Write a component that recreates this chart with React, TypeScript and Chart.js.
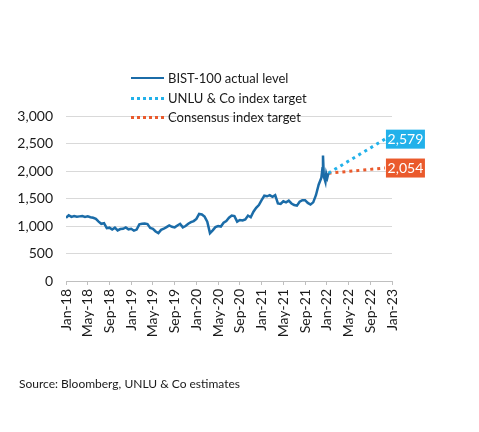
import React, { useEffect, useRef } from 'react';
import Chart from 'chart.js/auto';

// months since Jan-18
const actualMonth = [
  0, 0.5, 1, 1.5, 2, 2.5, 3, 3.5, 4, 4.5, 5, 5.5, 6, 6.5, 7, 7.5, 8, 8.5, 9, 9.5,
  10, 10.5, 11, 11.5, 12, 12.5, 13, 13.5, 14, 14.5, 15, 15.5, 16, 16.5, 17, 17.5, 18, 18.5, 19, 19.5,
  20, 20.5, 21, 21.5, 22, 22.5, 23, 23.5, 24, 24.5, 25, 25.5, 26, 26.5, 27, 27.5, 28, 28.5, 29, 29.5,
  30, 30.5, 31, 31.5, 32, 32.5, 33, 33.5, 34, 34.5, 35, 35.5, 36, 36.5, 37, 37.5, 38, 38.5, 39, 39.5,
  40, 40.5, 41, 41.5, 42, 42.5, 43, 43.5, 44, 44.5, 45, 45.5, 46, 46.5, 47, 47.2, 47.3, 47.45, 47.6, 47.75,
  47.9, 48.1, 48.3,
];
const actualLevel = [
  1150, 1195, 1165, 1180, 1170, 1175, 1180, 1165, 1175, 1160, 1150, 1130, 1080, 1040, 1050, 960, 970, 935, 970, 920,
  945, 950, 975, 940, 950, 915, 935, 1030, 1040, 1045, 1035, 965, 950, 900, 870, 930, 950, 980, 1010, 985,
  975, 1010, 1040, 975, 1000, 1040, 1070, 1090, 1130, 1220, 1210, 1170, 1080, 870, 920, 980, 1000, 990, 1060, 1090,
  1150, 1190, 1180, 1080, 1110, 1100, 1120, 1190, 1160, 1260, 1330, 1380, 1470, 1550, 1540, 1560, 1530, 1560, 1410, 1400,
  1450, 1430, 1460, 1410, 1380, 1370, 1440, 1470, 1470, 1420, 1390, 1430, 1560, 1750, 1880, 2050, 2280, 1900, 1850, 1800,
  1950, 1880, 1960,
];

const targetMonth = [48.3, 58.7];
const unluTarget = [1960, 2579];
const consensusTarget = [1960, 2054];

const tickLabels = [
  'Jan-18', 'May-18', 'Sep-18', 'Jan-19', 'May-19', 'Sep-19', 'Jan-20', 'May-20',
  'Sep-20', 'Jan-21', 'May-21', 'Sep-21', 'Jan-22', 'May-22', 'Sep-22', 'Jan-23',
];

const BLUE = '#1b6ca8';
const CYAN = '#22b1ea';
const ORANGE = '#ea5a2c';
const FONT = 'Lato, "Open Sans", sans-serif';

const endLabels = {
  id: 'endLabels',
  afterDatasetsDraw(chart: any) {
    const ctx = chart.ctx;
    [1, 2].forEach((i) => {
      const meta = chart.getDatasetMeta(i);
      const pt = meta.data[meta.data.length - 1];
      const ds = chart.data.datasets[i];
      const v = ds.data[ds.data.length - 1].y;
      ctx.save();
      ctx.fillStyle = ds.borderColor;
      ctx.fillRect(pt.x + 1, pt.y - 9.5, 39, 19);
      ctx.fillStyle = '#ffffff';
      ctx.font = `14px ${FONT}`;
      ctx.textAlign = 'center';
      ctx.textBaseline = 'middle';
      ctx.fillText(v.toLocaleString('en-US'), pt.x + 20.5, pt.y + 0.5);
      ctx.restore();
    });
  },
};

const LegendRow: React.FC<{ color: string; dotted?: boolean; label: string; top: number }> = ({ color, dotted, label, top }) => (
  <div style={{ position: 'absolute', left: 131, top, display: 'flex', alignItems: 'center', height: 18 }}>
    <span style={{ width: 33, borderTop: dotted ? `3px dotted ${color}` : `2px solid ${color}`, display: 'inline-block' }} />
    <span style={{ marginLeft: 4, fontSize: 13, color: '#1a1a1a', fontFamily: FONT, whiteSpace: 'nowrap' }}>{label}</span>
  </div>
);

export default function App() {
  const canvasRef = useRef<HTMLCanvasElement>(null);

  useEffect(() => {
    if (!canvasRef.current) return;
    const chart = new Chart(canvasRef.current, {
      type: 'line',
      data: {
        datasets: [
          {
            label: 'BIST-100 actual level',
            data: actualMonth.map((m, i) => ({ x: m, y: actualLevel[i] })),
            borderColor: BLUE,
            borderWidth: 2.5,
            pointRadius: 0,
            tension: 0,
          },
          {
            label: 'UNLU & Co index target',
            data: targetMonth.map((m, i) => ({ x: m, y: unluTarget[i] })),
            borderColor: CYAN,
            borderWidth: 3,
            borderDash: [3, 4],
            pointRadius: 0,
          },
          {
            label: 'Consensus index target',
            data: targetMonth.map((m, i) => ({ x: m, y: consensusTarget[i] })),
            borderColor: ORANGE,
            borderWidth: 3,
            borderDash: [3, 4],
            pointRadius: 0,
          },
        ],
      },
      options: {
        animation: false,
        responsive: false,
        maintainAspectRatio: false,
        layout: { padding: { left: 0, right: 87, top: 116, bottom: 91 } },
        plugins: { legend: { display: false }, tooltip: { enabled: false } },
        scales: {
          x: {
            type: 'linear',
            min: 0,
            max: 60,
            afterFit: (s: any) => { s.height = 60; },
            grid: { drawOnChartArea: false, drawTicks: true, tickLength: 4, color: '#bfbfbf' },
            border: { display: true, color: '#bfbfbf' },
            ticks: {
              stepSize: 4,
              autoSkip: false,
              maxRotation: 90,
              minRotation: 90,
              padding: 4,
              color: '#1a1a1a',
              font: { family: FONT, size: 14 },
              callback: (v: any) => tickLabels[Math.round(Number(v) / 4)] ?? '',
            },
          },
          y: {
            min: 0,
            max: 3000,
            afterFit: (s: any) => { s.width = 66; },
            grid: { color: '#d9d9d9', drawTicks: false },
            border: { display: false },
            ticks: {
              stepSize: 500,
              padding: 13,
              color: '#1a1a1a',
              font: { family: FONT, size: 14 },
              callback: (v: any) => Number(v).toLocaleString('en-US'),
            },
          },
        },
      },
      plugins: [endLabels],
    });
    return () => chart.destroy();
  }, []);

  return (
    <div style={{ position: 'absolute', left: 0, top: 0, width: 479, height: 432, background: '#fff', overflow: 'hidden' }}>
      <canvas ref={canvasRef} width={479} height={432} style={{ position: 'absolute', left: 0, top: 0 }} />
      <LegendRow color={BLUE} label="BIST-100 actual level" top={69} />
      <LegendRow color={CYAN} dotted label="UNLU & Co index target" top={89} />
      <LegendRow color={ORANGE} dotted label="Consensus index target" top={108} />
      <div style={{ position: 'absolute', left: 19, top: 376, fontSize: 12, color: '#1a1a1a', fontFamily: FONT, whiteSpace: 'nowrap' }}>
        Source: Bloomberg, UNLU &amp; Co estimates
      </div>
    </div>
  );
}
